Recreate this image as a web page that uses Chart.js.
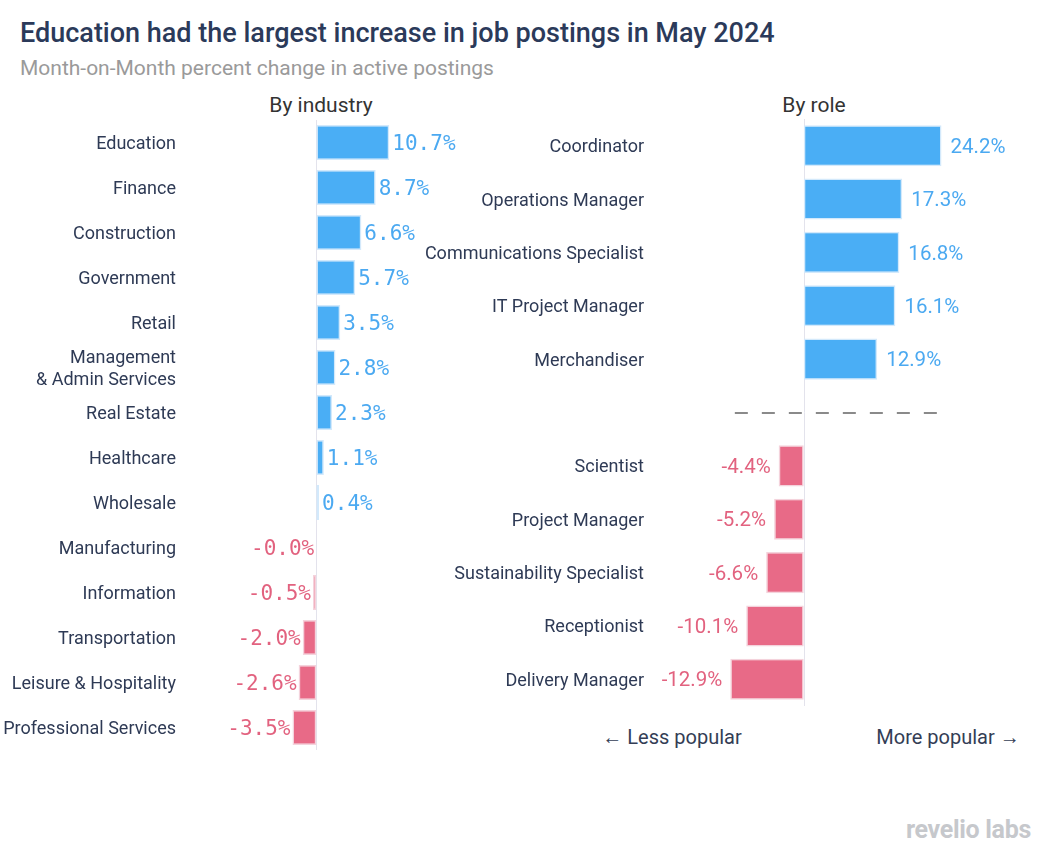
<!DOCTYPE html>
<html>
<head>
<meta charset="utf-8">
<script src="https://cdn.jsdelivr.net/npm/chart.js@4.4.1/dist/chart.umd.min.js"></script>
<style>
  body { margin: 0; background: #fff; font-family: Roboto, sans-serif; }
  #page { position: relative; width: 1051px; height: 861px; overflow: hidden; }
  .txt { position: absolute; white-space: nowrap; }
  #title { left: 20px; top: 17px; font-size: 27px; font-weight: 500; color: #2b3a5a; }
  #subtitle { left: 20px; top: 56px; font-size: 21px; color: #9a9a9a; }
  .panel { font-size: 21px; color: #333; top: 93px; transform: translateX(-50%); }
  .hint { font-size: 20px; color: #333d55; top: 725px; transform: translateX(-50%); }
  #logo { right: 20px; top: 815px; font-size: 25px; font-weight: 700; color: #c6c8cc; letter-spacing: -0.3px; }
  canvas { position: absolute; }
</style>
</head>
<body>
<div id="page">
  <div class="txt" id="title">Education had the largest increase in job postings in May 2024</div>
  <div class="txt" id="subtitle">Month-on-Month percent change in active postings</div>
  <div class="txt panel" style="left:321px">By industry</div>
  <div class="txt panel" style="left:814px">By role</div>
  <canvas id="industryChart" width="480" height="630" style="left:0;top:120px"></canvas>
  <canvas id="roleChart" width="620" height="587" style="left:420px;top:119px"></canvas>
  <div class="txt hint" style="left:672px">← Less popular</div>
  <div class="txt hint" style="left:948px">More popular →</div>
  <div class="txt" id="logo">revelio labs</div>
</div>
<script>
// ===== DATA =====
const industries = ['Education', 'Finance', 'Construction', 'Government', 'Retail',
    ['Management', '& Admin Services'], 'Real Estate', 'Healthcare', 'Wholesale',
    'Manufacturing', 'Information', 'Transportation', 'Leisure & Hospitality', 'Professional Services'];
const industryChange = [10.7, 8.7, 6.6, 5.7, 3.5, 2.8, 2.3, 1.1, 0.4, -0.02, -0.5, -2.0, -2.6, -3.5];

const roles = ['Coordinator', 'Operations Manager', 'Communications Specialist', 'IT Project Manager',
    'Merchandiser', '', 'Scientist', 'Project Manager', 'Sustainability Specialist', 'Receptionist',
    'Delivery Manager'];
const roleChange = [24.2, 17.3, 16.8, 16.1, 12.9, null, -4.4, -5.2, -6.6, -10.1, -12.9];

// dashed divider between the gainers and the losers (x range in % units)
const dividerIndex = 5;
const dividerRange = [-12.1, 23.8];

const BLUE = '#4aaef5';
const PINK = '#e86a87';
const BLUE_TEXT = '#4ba9f1';
const PINK_TEXT = '#e2627f';
const LABEL = '#2e3a55';

// ===== PLUGINS =====
const zeroLine = {
    id: 'zeroLine',
    beforeDatasetsDraw(chart) {
        const { ctx, chartArea, scales } = chart;
        const x = Math.round(scales.x.getPixelForValue(0)) + 0.5;
        ctx.save();
        ctx.strokeStyle = '#e3e3ec';
        ctx.lineWidth = 1;
        ctx.beginPath();
        ctx.moveTo(x, chartArea.top);
        ctx.lineTo(x, chartArea.bottom);
        ctx.stroke();
        ctx.restore();
    }
};

function valueLabels(font, gapPos, gapNeg) {
    return {
        id: 'valueLabels',
        afterDatasetsDraw(chart) {
            const { ctx } = chart;
            const values = chart.data.datasets[0].data;
            const meta = chart.getDatasetMeta(0);
            ctx.save();
            ctx.font = font;
            ctx.textBaseline = 'middle';
            meta.data.forEach((bar, i) => {
                const v = values[i];
                if (v === null) return;
                const neg = v < 0;
                ctx.fillStyle = neg ? PINK_TEXT : BLUE_TEXT;
                ctx.textAlign = neg ? 'right' : 'left';
                const x = neg ? bar.x - gapNeg : bar.x + gapPos;
                ctx.fillText(v.toFixed(1) + '%', x, bar.y + 2);
            });
            ctx.restore();
        }
    };
}

const divider = {
    id: 'divider',
    afterDatasetsDraw(chart) {
        const { ctx, scales } = chart;
        const y = Math.round(scales.y.getPixelForValue(dividerIndex));
        ctx.save();
        ctx.strokeStyle = '#8a8a8a';
        ctx.lineWidth = 2;
        ctx.setLineDash([13, 14]);
        ctx.beginPath();
        ctx.moveTo(scales.x.getPixelForValue(dividerRange[0]), y);
        ctx.lineTo(scales.x.getPixelForValue(dividerRange[1]), y);
        ctx.stroke();
        ctx.restore();
    }
};

// ===== CHARTS =====
function barChart(canvasId, labels, values, opts) {
    return new Chart(document.getElementById(canvasId), {
        type: 'bar',
        data: {
            labels: labels,
            datasets: [{
                data: values,
                backgroundColor: values.map(v => v < 0 ? PINK : BLUE),
                borderColor: values.map(v => v < 0 ? '#f4d3dc' : '#d3e9fb'),
                borderWidth: 1.5,
                borderSkipped: false,
                categoryPercentage: 1,
                barPercentage: opts.barPct
            }]
        },
        options: {
            indexAxis: 'y',
            responsive: false,
            animation: false,
            devicePixelRatio: 1,
            layout: { padding: 0 },
            plugins: { legend: { display: false }, tooltip: { enabled: false } },
            scales: {
                x: { display: false, min: opts.min, max: opts.max },
                y: {
                    afterFit: s => {
                        s.width = opts.axisWidth;
                        s.paddingTop = 0;
                        s.paddingBottom = 0;
                    },
                    grid: { display: false, drawTicks: false },
                    border: { display: false },
                    ticks: {
                        autoSkip: false,
                        padding: opts.tickPad,
                        labelOffset: 2,
                        color: LABEL,
                        font: { family: 'Roboto', size: 18, lineHeight: 1.25 }
                    }
                }
            }
        },
        plugins: opts.plugins
    });
}

barChart('industryChart', industries, industryChange, {
    min: -20, max: 24, axisWidth: 180, barPct: 0.78, tickPad: 4,
    plugins: [zeroLine, valueLabels('21px "DejaVu Sans Mono"', 3, 2)]
});

barChart('roleChart', roles, roleChange, {
    min: -27, max: 41.5, axisWidth: 230, barPct: 0.77, tickPad: 6,
    plugins: [zeroLine, divider, valueLabels('20.5px Roboto', 9, 8)]
});
</script>
</body>
</html>
